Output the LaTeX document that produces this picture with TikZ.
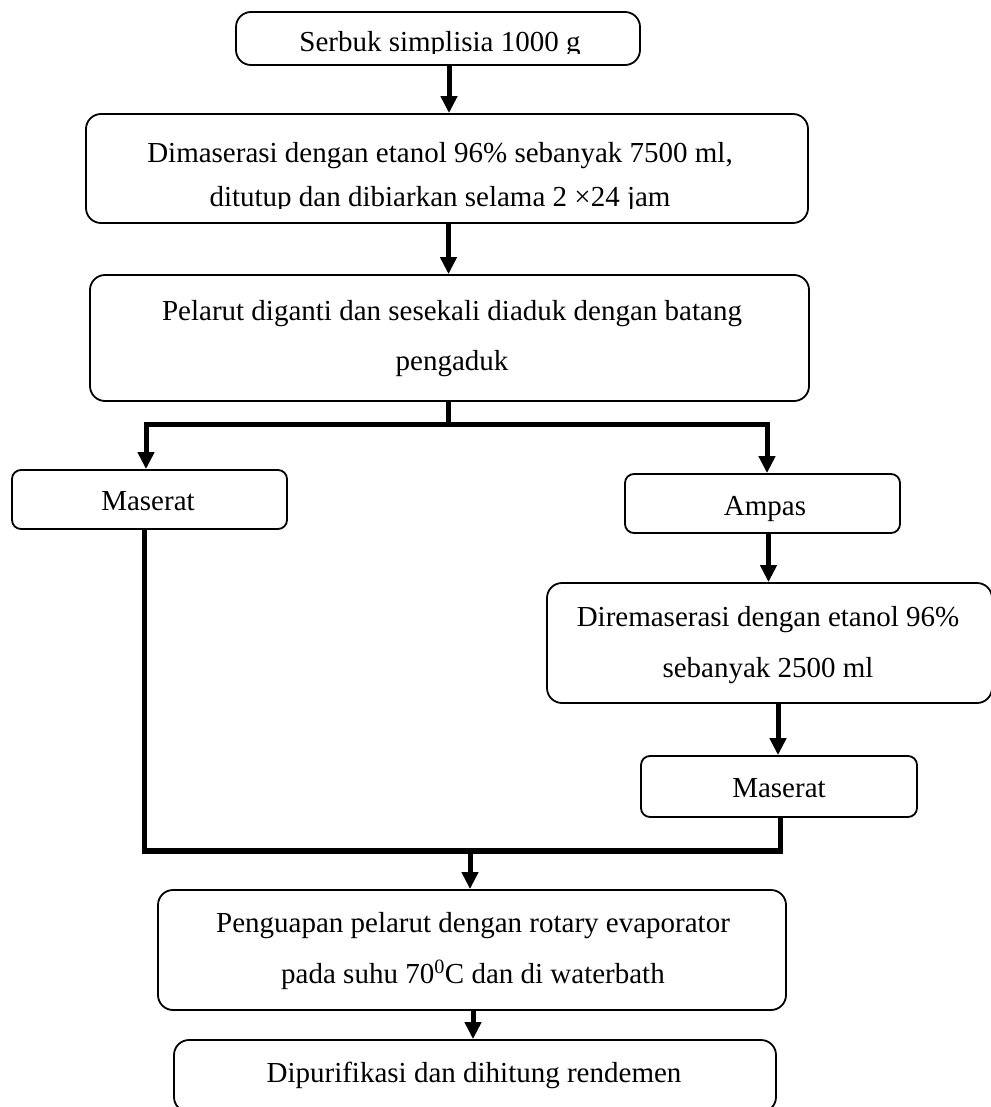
\documentclass[tikz,border=0pt]{standalone}
\usepackage{fontspec}
\setmainfont{Liberation Serif}
\usetikzlibrary{arrows.meta}
\begin{document}
\begin{tikzpicture}[x=1pt,y=-1pt,
  box/.style={draw, line width=1.8pt, rounded corners=15pt, inner sep=0pt},
  sbox/.style={box, rounded corners=9pt},
  txt/.style={anchor=base, inner sep=0pt, font=\fontsize{29}{35}\selectfont},
  flow/.style={line width=5.5pt, line join=miter},
  arr/.style={line width=5pt, line join=miter, -{Triangle[length=17pt,width=16pt]}},
]
\useasboundingbox (0,0) rectangle (990,1107);

% boxes
\node[box, minimum width=404pt, minimum height=53pt] (b1) at (438,38.5) {};
\node[box, minimum width=722pt, minimum height=109pt] (b2) at (447,168.5) {};
\node[box, minimum width=719pt, minimum height=126pt] (b3) at (449.5,338) {};
\node[sbox, minimum width=275pt, minimum height=59pt] (mas1) at (149.5,499.5) {};
\node[sbox, minimum width=275pt, minimum height=59pt] (amp) at (762.5,503.5) {};
\node[box, minimum width=445pt, minimum height=120pt] (rem) at (769.5,643) {};
\node[sbox, minimum width=276pt, minimum height=61pt] (mas2) at (779,786.5) {};
\node[box, minimum width=628pt, minimum height=120pt] (pen) at (472,950) {};
\node[box, minimum width=602pt, minimum height=72pt] (dip) at (475,1076) {};

% texts
\begin{scope}
  \clip (236,12) rectangle (640,53.5);
  \node[txt] (t1) at (440,52) {Serbuk simplisia 1000 g};
\end{scope}
\node[txt] (t2a) at (440,163) {Dimaserasi dengan etanol 96\% sebanyak 7500 ml,};
\begin{scope}
  \clip (86,170) rectangle (808,208.5);
  \node[txt] (t2b) at (440,207) {ditutup dan dibiarkan selama 2 ×24 jam};
\end{scope}
\node[txt] (t3a) at (452,320) {Pelarut diganti dan sesekali diaduk dengan batang};
\node[txt] (t3b) at (452,370) {pengaduk};
\node[txt] (tm1) at (148,510) {Maserat};
\node[txt] (tamp) at (765,515) {Ampas};
\node[txt] (trema) at (768,626) {Diremaserasi dengan etanol 96\%};
\node[txt] (tremb) at (768,677) {sebanyak 2500 ml};
\node[txt] (tm2) at (779,797) {Maserat};
\node[txt] (tpena) at (473,932) {Penguapan pelarut dengan rotary evaporator};
\node[txt] (tpenb) at (473,983) {pada suhu 70\textsuperscript{0}C dan di waterbath};
\node[txt] (tdip) at (474,1082) {Dipurifikasi dan dihitung rendemen};

% connectors
\draw[arr] ([xshift=11pt]b1.south) -- ([xshift=11pt]b1.south |- b2.north);
\draw[arr] ([xshift=1.5pt]b2.south) -- ([xshift=1.5pt]b2.south |- b3.north);

\coordinate (split) at (448,424.5);
\draw[line width=5pt] (split |- b3.south) -- (split);
\draw[arr] (split) -| ([xshift=-3.5pt]mas1.north);
\draw[arr] (split) -| ([xshift=4.5pt]amp.north);
\draw[arr] ([xshift=6pt]amp.south) -- ([xshift=6pt]amp.south |- rem.north);
\draw[arr] ([xshift=8.5pt]rem.south) -- ([xshift=8.5pt]rem.south |- mas2.north);

\coordinate (merge) at (470,851);
\draw[flow] ([xshift=-5pt]mas1.south) |- (merge) -| ([xshift=1.5pt]mas2.south);
\draw[arr] (merge) -- (merge |- pen.north);
\draw[arr] ([xshift=1pt]pen.south) -- ([xshift=1pt]pen.south |- dip.north);
\end{tikzpicture}
\end{document}
